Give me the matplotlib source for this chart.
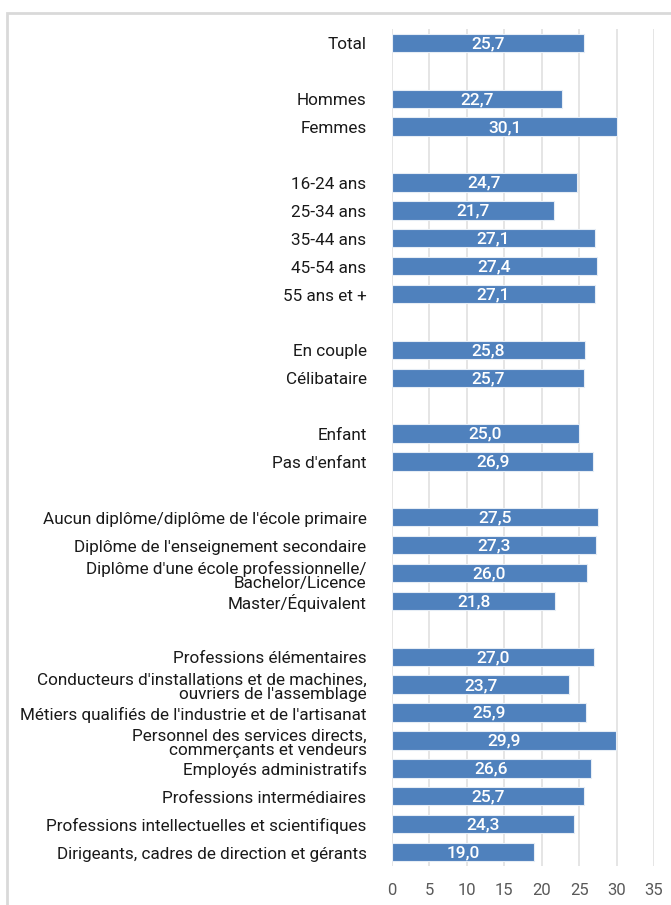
import matplotlib.pyplot as plt
import matplotlib.patches as mpatches
import numpy as np

plt.rcParams['font.family'] = ['Roboto', 'DejaVu Sans']

# categories (None = blank separator row)
labels = [
    "Total", None,
    "Hommes", "Femmes", None,
    "16-24 ans", "25-34 ans", "35-44 ans", "45-54 ans", "55 ans et +", None,
    "En couple", "Célibataire", None,
    "Enfant", "Pas d'enfant", None,
    "Aucun diplôme/diplôme de l'école primaire",
    "Diplôme de l'enseignement secondaire",
    "Diplôme d'une école professionnelle/\nBachelor/Licence",
    "Master/Équivalent", None,
    "Professions élémentaires",
    "Conducteurs d'installations et de machines,\nouvriers de l'assemblage",
    "Métiers qualifiés de l'industrie et de l'artisanat",
    "Personnel des services directs,\ncommerçants et vendeurs",
    "Employés administratifs",
    "Professions intermédiaires",
    "Professions intellectuelles et scientifiques",
    "Dirigeants, cadres de direction et gérants",
]
values = [
    25.7, None,
    22.7, 30.1, None,
    24.7, 21.7, 27.1, 27.4, 27.1, None,
    25.8, 25.7, None,
    25.0, 26.9, None,
    27.5, 27.3, 26.0, 21.8, None,
    27.0, 23.7, 25.9, 29.9, 26.6, 25.7, 24.3, 19.0,
]
xticks = [0, 5, 10, 15, 20, 25, 30, 35]

fig = plt.figure(figsize=(6.71, 9.05), dpi=100)
ax = fig.add_axes([392 / 671, 1 - 866 / 905, (654 - 392) / 671, (866 - 29) / 905])

# light frame around the chart area
fig.patches.append(mpatches.Rectangle((7 / 671, -0.1), 1.2, 1 - 13 / 905 + 0.1,
                                      transform=fig.transFigure, fill=False,
                                      edgecolor='#D9D9D9', linewidth=2))

for i, (lab, v) in enumerate(zip(labels, values)):
    if v is None:
        continue
    ax.barh(i, v, height=0.66, color='#4F81BD', edgecolor='#E6EDF5', linewidth=0.8, zorder=3)
    ax.text(v / 2, i + 0.03, f"{v:.1f}".replace('.', ','), ha='center', va='center',
            color='white', fontsize=12.5, fontweight='medium', zorder=4)
    dy = 0.1 if '\n' in lab else 0.07
    ax.text(-3.4, i + dy, lab, ha='right', va='center', fontsize=12.3, color='#1a1a1a',
            linespacing=0.95)

ax.set_xlim(0, 35)
ax.set_ylim(len(labels) - 0.5, -0.5)
ax.set_xticks(xticks)
ax.set_xticklabels([str(t) for t in xticks], fontsize=12, color='#595959')
ax.set_yticks([])
ax.tick_params(axis='x', length=0, pad=12)
ax.grid(axis='x', color='#E0E0E0', linewidth=1.2, zorder=0)
for s in ax.spines.values():
    s.set_visible(False)

fig.savefig('out.png', dpi=100)
